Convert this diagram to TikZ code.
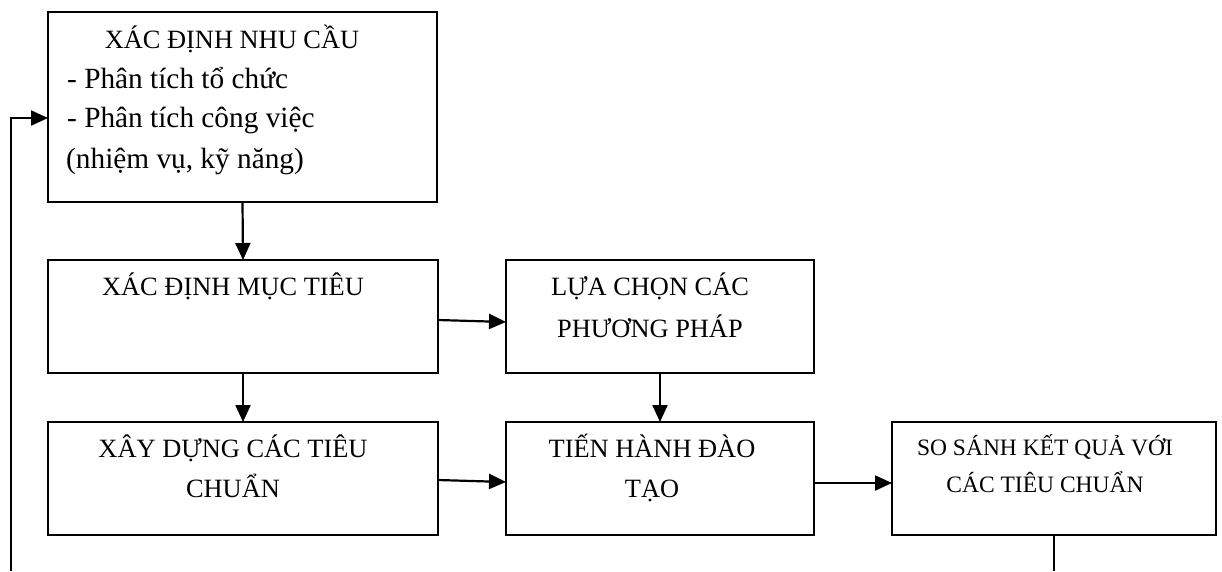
\documentclass[tikz,border=0pt]{standalone}
\usepackage{fontspec}
\setmainfont{Liberation Serif}
\usetikzlibrary{arrows.meta,positioning}

\begin{document}
\begin{tikzpicture}[x=1pt, y=-1pt,
    box/.style={rectangle, draw, line width=2.2pt, inner sep=0pt, outer sep=0pt},
    lbl/.style={anchor=base, inner sep=0pt, font=\fontsize{26.4}{30}\selectfont},
    item/.style={anchor=base west, inner sep=0pt, font=\fontsize{29.3}{34}\selectfont},
    small/.style={lbl, font=\fontsize{23.5}{28}\selectfont},
    flow/.style={line width=2.2pt, -{Triangle[length=17pt, width=15pt]}}
]
    \useasboundingbox (0,0) rectangle (1222,571);

    % Boxes
    \node[box, minimum width=389pt, minimum height=190pt] (need) at (242.5,107) {};
    \node[box, minimum width=390pt, minimum height=113pt] (goal) at (243,316.5) {};
    \node[box, minimum width=308pt, minimum height=113pt] (method) at (660,316.5) {};
    \node[box, minimum width=390pt, minimum height=113pt] (norm) at (243,478.5) {};
    \node[box, minimum width=308pt, minimum height=113pt] (train) at (660,478.5) {};
    \node[box, minimum width=324pt, minimum height=113pt] (compare) at (1054,478.5) {};

    % Texts
    \node[lbl] (needT) at ([xshift=-10.5pt, yshift=-36pt]need.north) {XÁC ĐỊNH NHU CẦU};
    \node[item] (needA) at ([xshift=19pt, yshift=-76pt]need.north west) {- Phân tích tổ chức};
    \node[item] (needB) at ([xshift=19pt, yshift=-115pt]need.north west) {- Phân tích công việc};
    \node[item] (needC) at ([xshift=18pt, yshift=-156pt]need.north west) {(nhiệm vụ, kỹ năng)};

    \node[lbl] (goalT) at ([xshift=-10pt, yshift=-35pt]goal.north) {XÁC ĐỊNH MỤC TIÊU};

    \node[lbl] (methodA) at ([xshift=-10pt, yshift=-35pt]method.north) {LỰA CHỌN CÁC};
    \node[lbl] (methodB) at ([xshift=-10pt, yshift=-77pt]method.north) {PHƯƠNG PHÁP};

    \node[lbl] (normA) at ([xshift=-10pt, yshift=-35pt]norm.north) {XÂY DỰNG CÁC TIÊU};
    \node[lbl] (normB) at ([xshift=-10pt, yshift=-75pt]norm.north) {CHUẨN};

    \node[lbl] (trainA) at ([xshift=-8pt, yshift=-35pt]train.north) {TIẾN HÀNH ĐÀO};
    \node[lbl] (trainB) at ([xshift=-8pt, yshift=-75pt]train.north) {TẠO};

    \node[small] (compareA) at ([xshift=-9pt, yshift=-33pt]compare.north) {SO SÁNH KẾT QUẢ VỚI};
    \node[small] (compareB) at ([xshift=-9pt, yshift=-70pt]compare.north) {CÁC TIÊU CHUẨN};

    % Arrows
    \draw[flow] (need.south) -- (goal.north);
    \draw[flow] (goal.south) -- (norm.north);
    \draw[flow] (method.south) -- (train.north);
    \draw[flow] ([yshift=-3.5pt]goal.east) -- ([yshift=-5.5pt]method.west);
    \draw[flow] ([yshift=-1.5pt]norm.east) -- ([yshift=-3.5pt]train.west);
    \draw[flow] ([yshift=-4.5pt]train.east) -- ([yshift=-4.5pt]compare.west);

    % Feedback loop
    \coordinate (backR) at (1054,571);
    \coordinate (backL) at (11,571);
    \draw[line width=2.2pt] (compare.south) -- (backR);
    \draw[flow] (backL) |- ([yshift=-11pt]need.west);
\end{tikzpicture}
\end{document}
